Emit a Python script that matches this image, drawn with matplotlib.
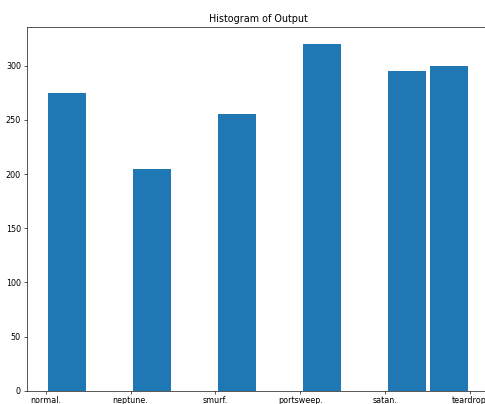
import matplotlib
matplotlib.use("Agg")
import matplotlib.pyplot as plt

# counts per output class
categories = ["normal.", "neptune.", "smurf.", "portsweep.", "satan.", "teardrop."]
counts = [275, 205, 255, 320, 295, 300]

DPI = 58


def main():
    fig = plt.figure(figsize=(485 / DPI, 404 / DPI), dpi=DPI)
    ax = fig.add_axes([0.0549, 0.0329, 0.954, 0.901])
    ax.hist(categories, weights=counts, rwidth=0.9)
    ax.set_title("Histogram of Output")
    fig.savefig("out.png", dpi=DPI)


if __name__ == '__main__':
    main()
